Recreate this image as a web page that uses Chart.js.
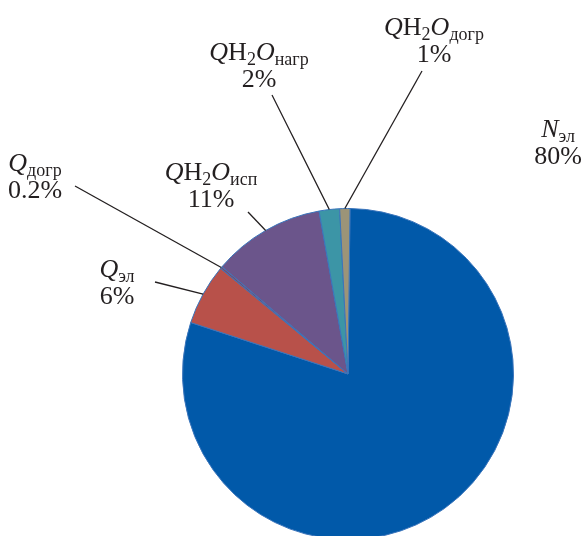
<!DOCTYPE html>
<html>
<head>
<meta charset="utf-8">
<script src="https://cdn.jsdelivr.net/npm/chart.js@4/dist/chart.umd.min.js"></script>
<style>
  html, body { margin: 0; padding: 0; background: #fff; overflow: hidden; }
  #wrap { position: absolute; left: 0; top: 0; width: 582px; height: 560px; }
</style>
</head>
<body>
<div id="wrap"><canvas id="pie"></canvas></div>
<script>
// Energy balance shares, clockwise from 12 o'clock
const categories = ['Nэл', 'Qэл', 'Qдогр', 'QH2Oисп', 'QH2Oнагр', 'QH2Oдогр'];
const shares = [80, 6, 0.2, 11, 2, 1];
const sliceColors = ['#0159a9', '#b8514a', '#7a4a6a', '#6b558b', '#3c95a6', '#9c9478'];

// Label glyph runs: i = italic, r = roman, s = subscript
const labelRuns = [
  [['N', 'i'], ['эл', 's']],
  [['Q', 'i'], ['эл', 's']],
  [['Q', 'i'], ['догр', 's']],
  [['Q', 'i'], ['H', 'r'], ['2', 's'], ['O', 'i'], ['исп', 's']],
  [['Q', 'i'], ['H', 'r'], ['2', 's'], ['O', 'i'], ['нагр', 's']],
  [['Q', 'i'], ['H', 'r'], ['2', 's'], ['O', 'i'], ['догр', 's']]
];

// Callout placement: text centre x, first baseline y, leader start (null = no leader)
const callouts = [
  { cx: 558, by: 137, lead: null },
  { cx: 117, by: 277, lead: [155, 282] },
  { cx: 35,  by: 171, lead: [75, 186] },
  { cx: 211, by: 180, lead: [248, 212] },
  { cx: 259, by: 60,  lead: [272, 95] },
  { cx: 434, by: 35,  lead: [422, 71] }
];

const FONT = '"Liberation Serif", "Times New Roman", serif';
const MAIN = 26, SUB = 18, SUB_DROP = 5, LINE_GAP = 27;

function runFont(kind) {
  if (kind === 'i') return 'italic ' + MAIN + 'px ' + FONT;
  if (kind === 's') return SUB + 'px ' + FONT;
  return MAIN + 'px ' + FONT;
}

function drawRuns(ctx, runs, cx, by) {
  let total = 0;
  const widths = runs.map(([t, k]) => { ctx.font = runFont(k); const w = ctx.measureText(t).width; total += w; return w; });
  let x = cx - total / 2;
  runs.forEach(([t, k], i) => {
    ctx.font = runFont(k);
    ctx.fillText(t, x, k === 's' ? by + SUB_DROP : by);
    x += widths[i];
  });
}

const calloutPlugin = {
  id: 'callouts',
  afterDatasetsDraw(chart) {
    const ctx = chart.ctx;
    const meta = chart.getDatasetMeta(0);
    ctx.save();
    ctx.fillStyle = '#231f20';
    ctx.strokeStyle = '#231f20';
    ctx.lineWidth = 1.3;
    ctx.textBaseline = 'alphabetic';
    ctx.textAlign = 'left';
    meta.data.forEach((arc, i) => {
      const c = callouts[i];
      const p = arc.getProps(['x', 'y', 'startAngle', 'endAngle', 'outerRadius'], true);
      if (c.lead) {
        const mid = (p.startAngle + p.endAngle) / 2;
        ctx.beginPath();
        ctx.moveTo(c.lead[0], c.lead[1]);
        ctx.lineTo(p.x + Math.cos(mid) * p.outerRadius, p.y + Math.sin(mid) * p.outerRadius);
        ctx.stroke();
      }
      drawRuns(ctx, labelRuns[i], c.cx, c.by);
      ctx.font = MAIN + 'px ' + FONT;
      ctx.textAlign = 'center';
      ctx.fillText(shares[i] + '%', c.cx, c.by + LINE_GAP);
      ctx.textAlign = 'left';
    });
    ctx.restore();
  }
};

new Chart(document.getElementById('pie'), {
  type: 'pie',
  data: {
    labels: categories,
    datasets: [{
      data: shares,
      backgroundColor: sliceColors,
      borderColor: '#3a74bb',
      borderWidth: 1
    }]
  },
  options: {
    responsive: true,
    maintainAspectRatio: false,
    animation: false,
    rotation: 0.7,
    layout: { padding: { left: 182, right: 68, top: 208, bottom: 20 } },
    plugins: { legend: { display: false }, tooltip: { enabled: false } }
  },
  plugins: [calloutPlugin]
});
</script>
</body>
</html>
